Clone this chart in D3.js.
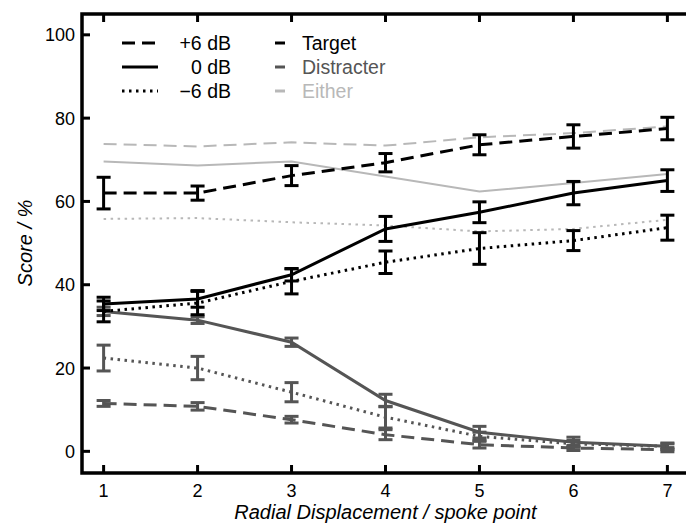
<!DOCTYPE html>
<html>
<head>
<meta charset="utf-8">
<script src="https://cdn.jsdelivr.net/npm/d3@7"></script>
<style>
  body { margin: 0; background: #fff; }
  text { font-family: "Liberation Sans", Arial, sans-serif; }
</style>
</head>
<body>
<div id="chart"></div>
<script>
// spoke points on the x axis
const spokes = [1, 2, 3, 4, 5, 6, 7];
const xTicks = [1, 2, 3, 4, 5, 6, 7];
const yTicks = [0, 20, 40, 60, 80, 100];

// Target responses (mean, error half-width)
const targetP6 = [62.0, 62.0, 66.2, 69.3, 73.6, 75.6, 77.5];
const targetP6Err = [3.8, 1.7, 2.4, 2.2, 2.4, 2.8, 2.7];
const target0 = [35.4, 36.6, 42.4, 53.4, 57.4, 62.0, 65.0];
const target0Err = [1.6, 2.0, 1.5, 3.0, 2.5, 2.8, 2.6];
const targetM6 = [33.6, 35.6, 40.8, 45.4, 48.7, 50.6, 53.7];
const targetM6Err = [2.5, 2.8, 3.0, 2.7, 3.8, 2.4, 3.0];

// Distracter responses
const distP6 = [11.5, 10.8, 7.6, 4.0, 1.6, 0.8, 0.4];
const distP6Err = [0.7, 0.9, 0.8, 1.2, 0.8, 0.6, 0.5];
const dist0 = [33.6, 31.5, 26.2, 12.2, 4.6, 2.2, 1.2];
const dist0Err = [1.0, 0.8, 1.0, 1.5, 1.4, 1.2, 0.8];
const distM6 = [22.4, 20.0, 14.2, 8.2, 3.6, 1.8, 1.2];
const distM6Err = [3.1, 2.8, 2.3, 2.6, 1.0, 0.8, 0.6];

// Either (no error bars)
const eitherP6 = [73.8, 73.2, 74.2, 73.4, 75.4, 76.4, 78.0];
const either0 = [69.6, 68.6, 69.6, 66.0, 62.4, 64.4, 66.6];
const eitherM6 = [55.8, 56.0, 55.0, 54.2, 52.8, 53.4, 55.6];

const W = 686, H = 524;

const x = d3.scaleLinear().domain([0.77, 7.23]).range([82, 689]);
const y = d3.scaleLinear().domain([-5.2, 105]).range([473, 14]);

const black = '#000', grey = '#555', light = '#b8b8b8';
const dash = {p6: '13,7', z: null, m6: '2.5,4.5'};

const svg = d3.select('#chart').append('svg')
    .attr('width', W).attr('height', H);

const series = [
    {vals: eitherP6, color: light, dash: dash.p6, w: 2},
    {vals: either0, color: light, dash: dash.z, w: 2},
    {vals: eitherM6, color: light, dash: dash.m6, w: 2},
    {vals: distP6, err: distP6Err, color: grey, dash: dash.p6, w: 3},
    {vals: dist0, err: dist0Err, color: grey, dash: dash.z, w: 3},
    {vals: distM6, err: distM6Err, color: grey, dash: dash.m6, w: 3},
    {vals: targetP6, err: targetP6Err, color: black, dash: dash.p6, w: 3},
    {vals: target0, err: target0Err, color: black, dash: dash.z, w: 3},
    {vals: targetM6, err: targetM6Err, color: black, dash: dash.m6, w: 3}
];

const line = d3.line().x((d, i) => x(spokes[i])).y(d => y(d));

let plotG = svg.append('g');

series.forEach(s => {
    plotG.append('path')
        .datum(s.vals)
        .attr('d', line)
        .attr('fill', 'none')
        .attr('stroke', s.color)
        .attr('stroke-width', s.w)
        .attr('stroke-dasharray', s.dash);

    if (!s.err) return;

    let eb = plotG.append('g')
        .attr('stroke', s.color)
        .attr('stroke-width', 3);

    eb.selectAll('.stem')
        .data(s.vals)
        .join('line')
        .attr('x1', (d, i) => x(spokes[i]))
        .attr('x2', (d, i) => x(spokes[i]))
        .attr('y1', (d, i) => y(d - s.err[i]))
        .attr('y2', (d, i) => y(d + s.err[i]));

    // caps top and bottom
    [-1, 1].forEach(sign => {
        eb.selectAll('.cap' + sign)
            .data(s.vals)
            .join('line')
            .attr('x1', (d, i) => x(spokes[i]) - 7)
            .attr('x2', (d, i) => x(spokes[i]) + 7)
            .attr('y1', (d, i) => y(d + sign * s.err[i]))
            .attr('y2', (d, i) => y(d + sign * s.err[i]));
    });
});

// ** Axes frame ** //
let axisG = svg.append('g').attr('stroke', '#000');

axisG.append('path')
    .attr('d', `M${x.range()[1]},${y.range()[1]}H${x.range()[0]}V${y.range()[0]}H${x.range()[1]}`)
    .attr('fill', 'none')
    .attr('stroke-width', 3.5);

axisG.selectAll('.xtick-b')
    .data(xTicks)
    .join('line')
    .attr('x1', d => x(d)).attr('x2', d => x(d))
    .attr('y1', y.range()[0]).attr('y2', y.range()[0] - 8)
    .attr('stroke-width', 3);

axisG.selectAll('.xtick-t')
    .data(xTicks)
    .join('line')
    .attr('x1', d => x(d)).attr('x2', d => x(d))
    .attr('y1', y.range()[1]).attr('y2', y.range()[1] + 8)
    .attr('stroke-width', 3);

axisG.selectAll('.ytick')
    .data(yTicks)
    .join('line')
    .attr('x1', x.range()[0]).attr('x2', x.range()[0] + 8)
    .attr('y1', d => y(d)).attr('y2', d => y(d))
    .attr('stroke-width', 3);

svg.selectAll('.xlab')
    .data(xTicks)
    .join('text')
    .attr('x', d => x(d))
    .attr('y', 497)
    .attr('text-anchor', 'middle')
    .attr('font-size', 18)
    .text(d => d);

svg.selectAll('.ylab')
    .data(yTicks)
    .join('text')
    .attr('x', 75)
    .attr('y', d => y(d))
    .attr('dy', '0.36em')
    .attr('text-anchor', 'end')
    .attr('font-size', 18)
    .text(d => d);

svg.append('text')
    .attr('x', x(4))
    .attr('y', 519)
    .attr('text-anchor', 'middle')
    .attr('font-size', 20)
    .attr('font-style', 'italic')
    .text('Radial Displacement / spoke point');

svg.append('text')
    .attr('transform', `translate(32,${y(50)}) rotate(-90)`)
    .attr('text-anchor', 'middle')
    .attr('font-size', 20)
    .attr('font-style', 'italic')
    .text('Score / %');

// ** Legend ** //
const legStyles = [
    {label: '+6 dB', dash: dash.p6},
    {label: '0 dB', dash: dash.z},
    {label: '\u22126 dB', dash: dash.m6}
];
const legColors = [
    {label: 'Target', color: black},
    {label: 'Distracter', color: grey},
    {label: 'Either', color: light}
];

let legendG = svg.append('g');

legendG.selectAll('.leg-line')
    .data(legStyles)
    .join('line')
    .attr('x1', 122).attr('x2', 158)
    .attr('y1', (d, i) => 43 + i * 24)
    .attr('y2', (d, i) => 43 + i * 24)
    .attr('stroke', '#000')
    .attr('stroke-width', 3)
    .attr('stroke-dasharray', d => d.dash);

legendG.selectAll('.leg-text')
    .data(legStyles)
    .join('text')
    .attr('x', 231)
    .attr('y', (d, i) => 43 + i * 24)
    .attr('dy', '0.36em')
    .attr('text-anchor', 'end')
    .attr('font-size', 19.5)
    .text(d => d.label);

legendG.selectAll('.leg-sw')
    .data(legColors)
    .join('line')
    .attr('x1', 275).attr('x2', 285)
    .attr('y1', (d, i) => 43 + i * 24)
    .attr('y2', (d, i) => 43 + i * 24)
    .attr('stroke', d => d.color)
    .attr('stroke-width', 3);

legendG.selectAll('.leg-ctext')
    .data(legColors)
    .join('text')
    .attr('x', 302)
    .attr('y', (d, i) => 43 + i * 24)
    .attr('dy', '0.36em')
    .attr('font-size', 19.5)
    .attr('fill', d => d.color)
    .text(d => d.label);
</script>
</body>
</html>
